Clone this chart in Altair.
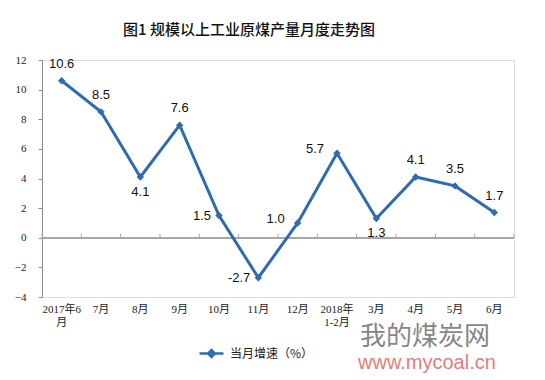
import altair as alt
import pandas as pd

months = ["2017年6月", "7月", "8月", "9月", "10月", "11月", "12月",
          "2018年1-2月", "3月", "4月", "5月", "6月"]
growth = [10.6, 8.5, 4.1, 7.6, 1.5, -2.7, 1.0, 5.7, 1.3, 4.1, 3.5, 1.7]
label_side = ["above", "above", "below", "above", "left", "left", "upleft",
              "upleft", "below", "above", "above", "above"]
series_name = "当月增速（%）"
title_text = "图1  规模以上工业原煤产量月度走势图"

df = pd.DataFrame({"month": months, "value": growth, "side": label_side,
                   "lab": [f"{v:.1f}" for v in growth],
                   "series": [series_name] * len(months)})

BLUE = "#2e6cb0"
AXIS_GRAY = "#8c8c8c"

x_scale = alt.Scale(type="band", domain=months, paddingInner=0, paddingOuter=0)
y_scale = alt.Scale(domain=[-4, 12], nice=False, zero=False)

label_expr = ("datum.label == '2017年6月' ? ['2017年6', '月'] : "
              "datum.label == '2018年1-2月' ? ['2018年', '1-2月'] : datum.label")

x_axis = alt.Axis(title=None, orient="bottom", domain=False, ticks=False,
                  labelAngle=0, labelPadding=6, labelFontSize=11,
                  labelFont="Liberation Serif, Noto Sans CJK SC",
                  labelColor="#222", labelExpr=label_expr, labelLineHeight=13)
y_axis = alt.Axis(title=None, values=list(range(-4, 13, 2)), grid=False,
                  domainColor=AXIS_GRAY, tickColor=AXIS_GRAY, tickSize=4,
                  labelPadding=12, labelFontSize=11,
                  labelFont="Liberation Serif", labelColor="#222")


def X(bp=0.5):
    return alt.X("month:N", scale=x_scale, sort=months, bandPosition=bp, axis=x_axis)


Y = alt.Y("value:Q", scale=y_scale, axis=y_axis)

base = alt.Chart(df)

zero_line = base.mark_rule(color="#a6a6a6", strokeWidth=1.5).encode(
    x=alt.value(0), x2=alt.value(472), y=alt.datum(0, scale=y_scale, axis=y_axis))

zero_ticks_left = base.mark_rule(color="#a6a6a6", strokeWidth=1, y2Offset=-4).encode(
    x=X(0), y=alt.datum(0, scale=y_scale, axis=y_axis), y2=alt.datum(0))
zero_tick_end = base.transform_filter(alt.datum.month == months[-1]).mark_rule(
    color="#a6a6a6", strokeWidth=1, y2Offset=-4).encode(
    x=X(1), y=alt.datum(0, scale=y_scale, axis=y_axis), y2=alt.datum(0))

line = base.mark_line(strokeWidth=3).encode(
    x=X(), y=Y,
    color=alt.Color("series:N",
                    scale=alt.Scale(domain=[series_name], range=[BLUE]),
                    legend=alt.Legend(
                        title=None, orient="none", legendX=156, legendY=280,
                        symbolType="M-1,0L1,0M-0.28,0L0,-0.28L0.28,0L0,0.28Z",
                        symbolSize=576, symbolStrokeWidth=2.5,
                        symbolFillColor=BLUE, symbolStrokeColor=BLUE,
                        labelFontSize=12, labelFont="Noto Sans CJK SC",
                        labelColor="#222", labelOffset=5)),
)

points = base.mark_point(shape="diamond", filled=True, size=55, opacity=1,
                         color=BLUE).encode(x=X(), y=Y)


def labels(side, **kw):
    return base.transform_filter(alt.datum.side == side).mark_text(
        font="Liberation Sans", fontSize=13, color="#111", **kw
    ).encode(x=X(), y=Y, text="lab:N")


lab_above = labels("above", dy=-17)
lab_below = labels("below", dy=15)
lab_left = labels("left", align="right", dx=-8, dy=0)
lab_upleft = labels("upleft", align="right", dx=-13, dy=-4)

title = alt.Chart(pd.DataFrame({"t": [title_text]})).mark_text(
    font="Noto Sans CJK SC", fontSize=15, fontWeight=500, color="#111",
    align="center", baseline="middle"
).encode(x=alt.value(207), y=alt.value(-30), text="t:N")

wm = pd.DataFrame({"a": ["我的煤炭网"], "b": ["www.mycoal.cn"]})
wm1 = alt.Chart(wm).mark_text(font="Noto Sans CJK SC", fontSize=26,
                              color="#727272", opacity=0.85, align="left",
                              baseline="middle").encode(
    x=alt.value(318), y=alt.value(277), text="a:N")
wm2 = alt.Chart(wm).mark_text(font="Liberation Sans", fontSize=20,
                              color="#e06666", opacity=0.85, align="left",
                              baseline="middle").encode(
    x=alt.value(316), y=alt.value(303), text="b:N")

chart = alt.layer(zero_line, zero_ticks_left, zero_tick_end, line, points,
                  lab_above, lab_below, lab_left, lab_upleft,
                  title, wm1, wm2).properties(
    width=472, height=237,
    autosize=alt.AutoSizeParams(type="none"),
    padding={"left": 34, "top": 52, "right": 20, "bottom": 80},
).configure_view(stroke=None).configure(background="white")

chart.save("out.html", embed_options={"renderer": "svg", "actions": False})
